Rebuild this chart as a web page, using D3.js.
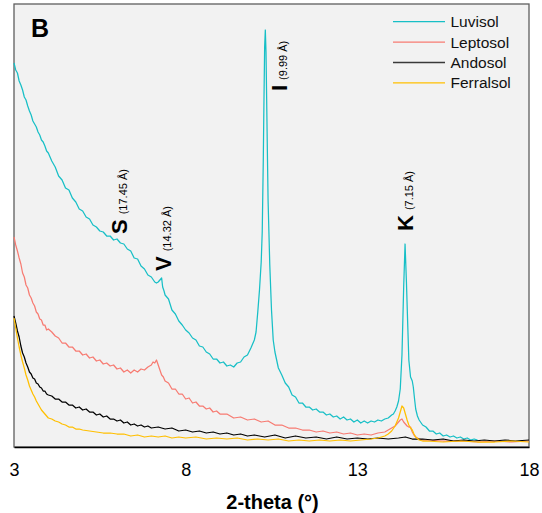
<!DOCTYPE html>
<html><head><meta charset="utf-8">
<script src="https://cdn.jsdelivr.net/npm/d3@7"></script>
<style>
html,body{margin:0;padding:0;background:#fff;}
svg{display:block;font-family:"Liberation Sans",Arial,sans-serif;}
</style></head>
<body>
<svg id="chart" width="542" height="513"></svg>
<script>
// ---- data (2-theta in degrees, intensity in arbitrary units) ----
const seriesNames = ["Luvisol","Leptosol","Andosol","Ferralsol"];
const seriesColors = ["#17bfc6","#f77b72","#000000","#ffbf00"];
const xTicks = [3, 8, 13, 18];
const panelLabel = "B";
const xTitle = "2-theta (°)";

const luvisol = [[3.0,384],[3.05,377],[3.1,374],[3.15,366],[3.2,362],[3.25,357],[3.3,350],[3.35,347],[3.4,341],[3.45,336],[3.5,332],[3.55,326],[3.6,323],[3.65,320],[3.7,315],[3.75,312],[3.8,307],[3.85,305],[3.9,301],[3.95,296],[4.0,294],[4.1,286],[4.2,280],[4.3,271],[4.4,267],[4.5,259],[4.6,257],[4.7,249],[4.8,245],[4.9,238],[5.0,236],[5.1,230],[5.2,228],[5.3,222],[5.4,220],[5.5,216],[5.6,215],[5.7,211],[5.8,211],[5.9,207],[6.0,208],[6.1,204],[6.2,203],[6.3,198],[6.4,196],[6.5,189],[6.6,188],[6.7,181],[6.8,178],[6.9,172],[7.0,170],[7.1,165],[7.15,164],[7.2,165],[7.25,167],[7.3,169],[7.33,160],[7.37,156],[7.4,152],[7.5,148],[7.6,137],[7.7,133],[7.8,126],[7.9,122],[8.0,117],[8.1,114],[8.2,109],[8.3,107],[8.4,101],[8.5,100],[8.6,95],[8.7,93],[8.8,88],[8.9,88],[9.0,84],[9.1,85],[9.2,81],[9.3,82],[9.4,80],[9.5,84],[9.6,85],[9.7,90],[9.8,92],[9.9,99],[10.0,107],[10.05,115],[10.1,135],[10.15,157],[10.2,185],[10.23,215],[10.26,285],[10.28,345],[10.3,400],[10.32,417],[10.34,395],[10.36,345],[10.38,295],[10.4,247],[10.45,182],[10.5,137],[10.55,107],[10.6,95],[10.7,79],[10.8,72],[10.9,64],[11.0,60],[11.1,52],[11.2,50],[11.3,44],[11.4,44],[11.5,40],[11.6,40],[11.7,37],[11.8,38],[11.9,35],[12.0,35],[12.1,32],[12.2,33],[12.3,30],[12.4,31],[12.5,28],[12.6,30],[12.7,27],[12.8,28],[12.9,25],[13.0,27],[13.1,24],[13.2,26],[13.3,24],[13.4,26],[13.5,25],[13.6,27],[13.7,26],[13.8,28],[13.9,29],[14.0,32],[14.05,33],[14.1,36],[14.15,40],[14.2,46],[14.25,58],[14.3,92],[14.35,160],[14.39,203],[14.43,165],[14.47,120],[14.5,87],[14.55,70],[14.6,66],[14.63,60],[14.67,47],[14.7,38],[14.75,31],[14.8,27],[14.9,22],[15.0,20],[15.1,16],[15.2,16],[15.3,13],[15.4,14],[15.5,11],[15.6,12],[15.7,10],[15.8,11],[15.9,9],[16.0,10],[16.1,8],[16.2,9],[16.3,7],[16.4,8],[16.5,7]];

const leptosol = [[3.0,210],[3.05,202],[3.1,196],[3.15,189],[3.2,183],[3.25,174],[3.3,170],[3.35,162],[3.4,159],[3.45,152],[3.5,149],[3.55,144],[3.6,141],[3.65,135],[3.7,133],[3.75,128],[3.8,127],[3.85,122],[3.9,122],[3.95,117],[4.0,118],[4.1,115],[4.2,111],[4.3,109],[4.4,104],[4.5,104],[4.6,100],[4.7,100],[4.8,96],[4.9,96],[5.0,92],[5.1,93],[5.2,89],[5.3,90],[5.4,86],[5.5,87],[5.6,83],[5.7,84],[5.8,81],[5.9,82],[6.0,78],[6.1,79],[6.2,75],[6.3,77],[6.4,74],[6.5,77],[6.6,75],[6.7,78],[6.8,77],[6.9,80],[7.0,82],[7.05,85],[7.1,84],[7.15,87],[7.2,82],[7.25,77],[7.3,72],[7.35,70],[7.4,66],[7.5,64],[7.6,58],[7.7,58],[7.8,53],[7.9,53],[8.0,48],[8.1,49],[8.2,44],[8.3,45],[8.4,41],[8.5,41],[8.6,38],[8.7,39],[8.8,35],[8.9,36],[9.0,33],[9.2,33],[9.4,29],[9.6,30],[9.8,27],[10.0,28],[10.2,25],[10.4,26],[10.6,22],[10.8,22],[11.0,19],[11.2,19],[11.4,17],[11.6,17],[11.8,15],[12.0,16],[12.2,14],[12.4,15],[12.6,13],[12.8,14],[13.0,12],[13.2,13],[13.4,12],[13.6,14],[13.8,15],[13.9,17],[14.0,19],[14.1,21],[14.2,25],[14.25,27],[14.3,28],[14.35,25],[14.4,23],[14.45,21],[14.5,20],[14.55,20],[14.6,15],[14.65,12],[14.7,10],[14.8,8],[14.9,7],[15.0,7],[15.5,6],[16.0,6],[16.5,5],[17.0,6],[17.5,5],[18.0,6]];

const andosol = [[3.0,131],[3.05,124],[3.1,116],[3.15,110],[3.2,101],[3.25,94],[3.3,90],[3.35,84],[3.4,80],[3.45,75],[3.5,73],[3.55,69],[3.6,68],[3.65,64],[3.7,63],[3.75,60],[3.8,59],[3.85,56],[3.9,56],[3.95,53],[4.0,52],[4.1,51],[4.2,48],[4.3,48],[4.4,45],[4.5,45],[4.6,42],[4.7,42],[4.8,39],[4.9,40],[5.0,37],[5.1,38],[5.2,35],[5.3,35],[5.4,32],[5.5,33],[5.6,30],[5.7,31],[5.8,28],[5.9,28],[6.0,26],[6.1,27],[6.2,24],[6.3,25],[6.4,22],[6.5,23],[6.6,21],[6.7,22],[6.8,20],[6.9,21],[7.0,19],[7.2,20],[7.4,18],[7.6,19],[7.8,16],[8.0,17],[8.2,15],[8.4,16],[8.6,14],[8.8,15],[9.0,13],[9.2,14],[9.4,12],[9.6,13],[9.8,11],[10.0,12],[10.3,10],[10.6,12],[10.9,9],[11.2,11],[11.5,9],[11.8,10],[12.1,8],[12.4,10],[12.7,8],[13.0,9],[13.3,8],[13.6,9],[13.9,8],[14.2,9],[14.4,10],[14.6,8],[14.9,8],[15.2,7],[15.5,8],[15.8,6],[16.1,7],[16.4,6],[16.7,7],[17.0,6],[17.3,7],[17.6,6],[18.0,7]];

const ferralsol = [[3.0,129],[3.05,119],[3.1,109],[3.15,100],[3.2,92],[3.25,85],[3.3,79],[3.35,72],[3.4,67],[3.45,61],[3.5,57],[3.55,53],[3.6,50],[3.65,46],[3.7,43],[3.75,40],[3.8,37],[3.85,35],[3.9,33],[3.95,31],[4.0,29],[4.1,28],[4.2,26],[4.3,25],[4.4,23],[4.5,22],[4.6,20],[4.7,20],[4.8,18],[4.9,18],[5.0,17],[5.2,16],[5.4,15],[5.6,14],[5.8,14],[6.0,13],[6.2,13],[6.4,11],[6.6,12],[6.8,10],[7.0,11],[7.2,10],[7.4,11],[7.6,9],[7.8,10],[8.0,9],[8.3,10],[8.6,8],[8.9,9],[9.2,8],[9.5,9],[9.8,7],[10.1,8],[10.4,7],[10.7,8],[11.0,6],[11.3,7],[11.6,6],[11.9,7],[12.2,6],[12.5,7],[12.8,6],[13.1,7],[13.4,8],[13.6,9],[13.8,11],[13.9,13],[14.0,16],[14.1,21],[14.2,29],[14.25,35],[14.3,41],[14.35,39],[14.4,33],[14.45,27],[14.5,22],[14.55,19],[14.6,17],[14.65,13],[14.7,10],[14.8,7],[14.9,6],[15.0,6],[15.5,5],[16.0,6],[16.5,5],[17.0,5],[17.5,6],[18.0,5]];

// peak annotations: mineral letter, d-spacing, anchor in data units
const peakLetters = ["S","V","I","K"];
const peakSpacings = ["(17.45 Å)","(14.32 Å)","(9.99 Å)","(7.15 Å)"];
const peakTheta = [6.29, 7.57, 10.95, 14.62];
const peakIntensity = [213, 176, 356, 216];

// ---- drawing ----
const svg = d3.select("#chart");
const m = {left:14, right:13, top:4, bottom:66};
const W = 542, H = 513;
const x = d3.scaleLinear().domain([3,18]).range([m.left, W - m.right]);
const y = d3.scaleLinear().domain([0,443]).range([H - m.bottom, m.top]);

svg.append("rect")
  .attr("x", m.left).attr("y", m.top)
  .attr("width", W - m.right - m.left).attr("height", H - m.bottom - m.top)
  .attr("fill", "#f2f2f2").attr("stroke", "#5f5f5f").attr("stroke-width", 1.3);

const allSeries = [luvisol, leptosol, andosol, ferralsol];
const line = d3.line().x(d => x(d[0])).y(d => y(d[1]));
const g = svg.append("g");
allSeries.forEach((s, i) => {
  g.append("path").datum(s)
    .attr("d", line)
    .attr("fill", "none")
    .attr("stroke", seriesColors[i])
    .attr("stroke-width", 1.25)
    .attr("stroke-linejoin", "round");
});

// x axis
const xAxis = svg.append("g")
  .attr("transform", `translate(0,${H - m.bottom})`)
  .call(d3.axisBottom(x).tickValues(xTicks).tickSize(0).tickPadding(16).tickFormat(d3.format("d")));
xAxis.select(".domain").attr("stroke", "#000").attr("stroke-width", 1.6);
xAxis.selectAll("text").attr("font-size", 18).attr("fill", "#000")
  .attr("font-family", "'Liberation Sans', Arial, sans-serif");

svg.append("text")
  .attr("x", (m.left + W - m.right) / 2 + 1).attr("y", 509)
  .attr("text-anchor", "middle")
  .attr("font-size", 20).attr("font-weight", "bold")
  .text(xTitle);

// panel letter
svg.append("text").attr("x", 31).attr("y", 37)
  .attr("font-size", 25).attr("font-weight", "bold").text(panelLabel);

// legend
const legend = svg.append("g");
seriesNames.forEach((n, i) => {
  const ly = 21.7 + i * 20.4;
  legend.append("line").attr("x1", 393).attr("x2", 445).attr("y1", ly).attr("y2", ly)
    .attr("stroke", i === 2 ? "#3a3a3a" : seriesColors[i]).attr("stroke-width", 1.3);
  legend.append("text").attr("x", 450.5).attr("y", ly).attr("dy", "0.36em")
    .attr("font-size", 15.5).attr("fill", "#111").text(n);
});

// peak labels (rotated)
peakLetters.forEach((L, i) => {
  const t = svg.append("text")
    .attr("transform", `translate(${x(peakTheta[i])},${y(peakIntensity[i])}) rotate(-90)`)
    .attr("fill", "#000");
  t.append("tspan").attr("font-size", 22).attr("font-weight", "bold").text(L);
  t.append("tspan").attr("font-size", 11).attr("dx", 5).text(peakSpacings[i]);
});
</script>
</body></html>
